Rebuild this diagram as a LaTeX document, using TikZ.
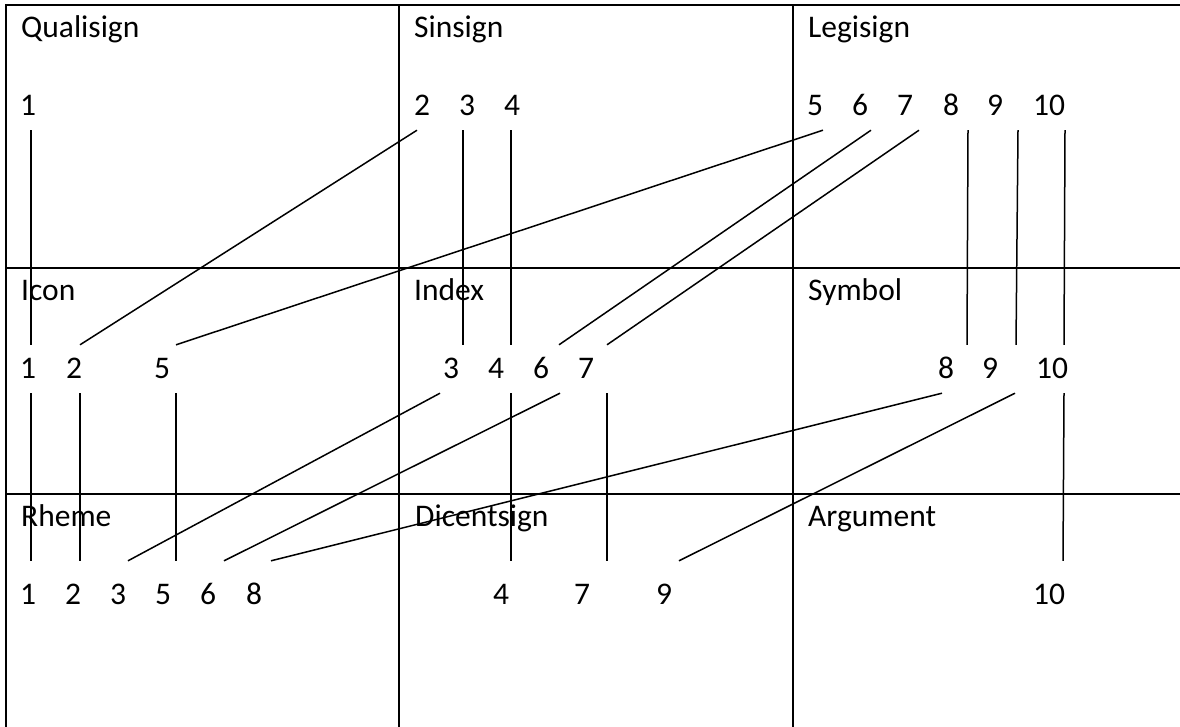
\documentclass[tikz,border=0pt]{standalone}
\usepackage{fontspec}
\setmainfont{Carlito}
\begin{document}
\begin{tikzpicture}[x=1pt,y=-1pt,
  gridline/.style={line width=2pt, line cap=rect},
  conn/.style={line width=1.5pt},
  head/.style={anchor=base west, inner sep=0pt, font=\fontsize{31.5}{36}\selectfont},
  num/.style={anchor=base, inner sep=0pt, text height=18pt, text depth=0pt, font=\fontsize{31.5}{36}\selectfont}]
\useasboundingbox (0,0) rectangle (1180,726);
% grid
\draw[gridline] (6,5) -- (1180,5);
\draw[gridline] (6,268) -- (1180,268);
\draw[gridline] (6,494) -- (1180,494);
\draw[gridline] (6,5) -- (6,726);
\draw[gridline] (399,5) -- (399,726);
\draw[gridline] (793,5) -- (793,726);
% headers
\node[head] (hq) at (21,37) {Qualisign};
\node[head] (hs) at (414,37) {Sinsign};
\node[head] (hl) at (808,37) {Legisign};
\node[head] (hi) at (21,300) {Icon};
\node[head] (hx) at (414,300) {Index};
\node[head] (hy) at (808,300) {Symbol};
\node[head] (hr) at (21,526) {Rheme};
\node[head] (hd) at (415,526) {Dicentsign};
\node[head] (ha) at (808,526) {Argument};
% row 1 numbers
\node[num] (q1) at (28,115) {1};
\node[num] (s2) at (422,115) {2};
\node[num] (s3) at (467,115) {3};
\node[num] (s4) at (512,115) {4};
\node[num] (l5) at (815,115) {5};
\node[num] (l6) at (860,115) {6};
\node[num] (l7) at (905,115) {7};
\node[num] (l8) at (951,115) {8};
\node[num] (l9) at (995,115) {9};
\node[num] (l10) at (1049,115) {10};
% row 2 numbers
\node[num] (i1) at (28,378) {1};
\node[num] (i2) at (74,378) {2};
\node[num] (i5) at (162,378) {5};
\node[num] (x3) at (451,378) {3};
\node[num] (x4) at (496,378) {4};
\node[num] (x6) at (541,378) {6};
\node[num] (x7) at (586,378) {7};
\node[num] (y8) at (946,378) {8};
\node[num] (y9) at (990,378) {9};
\node[num] (y10) at (1052,378) {10};
% row 3 numbers
\node[num] (r1) at (28,604) {1};
\node[num] (r2) at (73,604) {2};
\node[num] (r3) at (118,604) {3};
\node[num] (r5) at (163,604) {5};
\node[num] (r6) at (208,604) {6};
\node[num] (r8) at (254,604) {8};
\node[num] (d4) at (501,604) {4};
\node[num] (d7) at (582,604) {7};
\node[num] (d9) at (664,604) {9};
\node[num] (a10) at (1049,604) {10};
% connectors row 1 -> row 2
\draw[conn] ([xshift=3pt,yshift=-15pt]q1.south) -- ([xshift=3pt,yshift=15pt]i1.north);
\draw[conn] ([xshift=-5pt,yshift=-15pt]s2.south) -- ([xshift=6pt,yshift=15pt]i2.north);
\draw[conn] ([xshift=-4pt,yshift=-15pt]s3.south) -- ([xshift=12pt,yshift=15pt]x3.north);
\draw[conn] ([xshift=-1pt,yshift=-15pt]s4.south) -- ([xshift=15pt,yshift=15pt]x4.north);
\draw[conn] ([xshift=8pt,yshift=-15pt]l5.south) -- ([xshift=14pt,yshift=15pt]i5.north);
\draw[conn] ([xshift=11pt,yshift=-15pt]l6.south) -- ([xshift=18pt,yshift=15pt]x6.north);
\draw[conn] ([xshift=14pt,yshift=-15pt]l7.south) -- ([xshift=21pt,yshift=15pt]x7.north);
\draw[conn] ([xshift=17pt,yshift=-15pt]l8.south) -- ([xshift=21pt,yshift=15pt]y8.north);
\draw[conn] ([xshift=23pt,yshift=-15pt]l9.south) -- ([xshift=26pt,yshift=15pt]y9.north);
\draw[conn] ([xshift=16pt,yshift=-15pt]l10.south) -- ([xshift=12pt,yshift=15pt]y10.north);
% connectors row 2 -> row 3
\draw[conn] ([xshift=3pt,yshift=-15pt]i1.south) -- ([xshift=3pt,yshift=25pt]r1.north);
\draw[conn] ([xshift=6pt,yshift=-15pt]i2.south) -- ([xshift=7pt,yshift=25pt]r2.north);
\draw[conn] ([xshift=14pt,yshift=-15pt]i5.south) -- ([xshift=13pt,yshift=25pt]r5.north);
\draw[conn] ([xshift=-11pt,yshift=-15pt]x3.south) -- ([xshift=10pt,yshift=25pt]r3.north);
\draw[conn] ([xshift=19pt,yshift=-15pt]x6.south) -- ([xshift=16pt,yshift=25pt]r6.north);
\draw[conn] ([xshift=15pt,yshift=-15pt]x4.south) -- ([xshift=10pt,yshift=25pt]d4.north);
\draw[conn] ([xshift=21pt,yshift=-15pt]x7.south) -- ([xshift=25pt,yshift=25pt]d7.north);
\draw[conn] ([xshift=-4pt,yshift=-15pt]y8.south) -- ([xshift=17pt,yshift=25pt]r8.north);
\draw[conn] ([xshift=25pt,yshift=-15pt]y9.south) -- ([xshift=15pt,yshift=25pt]d9.north);
\draw[conn] ([xshift=12pt,yshift=-15pt]y10.south) -- ([xshift=14pt,yshift=25pt]a10.north);
\end{tikzpicture}
\end{document}
